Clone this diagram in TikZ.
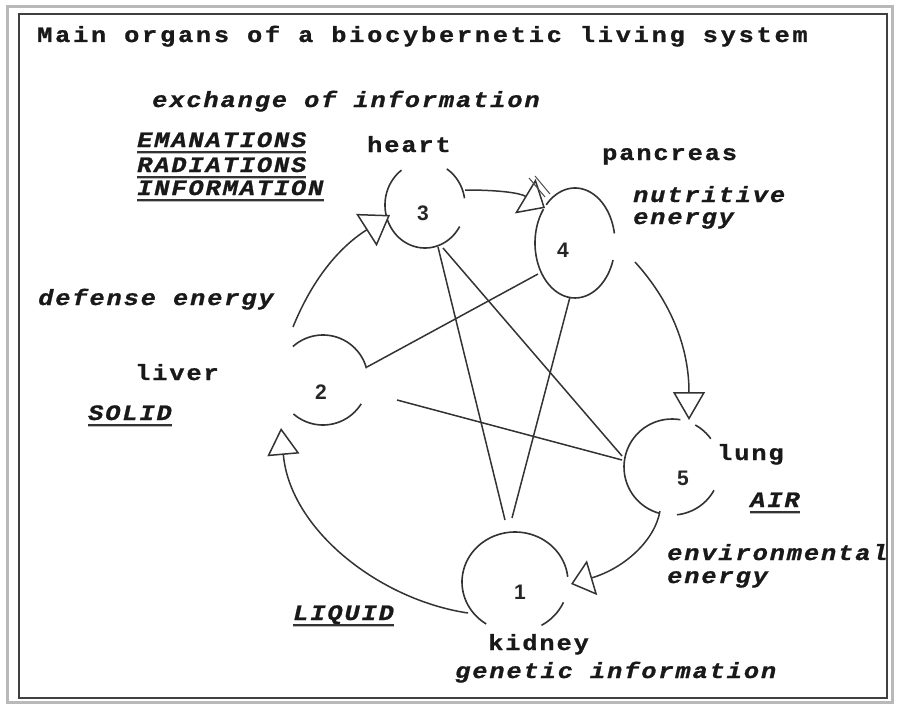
\documentclass[tikz,border=0pt]{standalone}
\usepackage{fontspec}
\usetikzlibrary{arrows.meta}
\newfontfamily\lblfont[LetterSpace=8.7,FakeStretch=1.15,FakeBold=1]{Liberation Mono}
\newfontfamily\ttlfont[LetterSpace=12.6,FakeStretch=1.15,FakeBold=1]{Liberation Mono}
\newfontfamily\digfont{Liberation Sans}
\newcommand\oarc[6]{\draw[organ] plot[domain=#5:#6,samples=40,smooth] ({#1+#3*cos(\x)},{#2+#4*sin(\x)});}
\begin{document}
\begin{tikzpicture}[x=1pt,y=-1pt,
  lab/.style={font=\lblfont\bfseries\fontsize{22}{26}\selectfont, anchor=base west, inner sep=0pt, text=black!90},
  ilab/.style={lab, font=\lblfont\bfseries\itshape\fontsize{22}{26}\selectfont},
  num/.style={font=\digfont\bfseries\fontsize{21}{22}\selectfont, inner sep=0pt, text=black!85},
  organ/.style={line width=1.6pt, black!80},
  conn/.style={line width=1.5pt, black!80},
  ul/.style={line width=2pt, black!80},
  ulshadow/.style={line width=1.6pt, gray!55}]
\useasboundingbox (0,0) rectangle (900,709);
\fill[white] (0,0) rectangle (900,709);
% frame
\draw[gray!55, line width=3pt] (7,7) rectangle (892,702);
\draw[black!75, line width=2pt] (19,14) rectangle (887,698);

% texts
\node[lab, font=\ttlfont\bfseries\fontsize{22}{26}\selectfont] (title) at (37,42) {Main organs of a biocybernetic living system};
\node[ilab] (exch) at (152,107) {exchange of information};
\node[ilab] (eman) at (137,147) {EMANATIONS};
\node[ilab] (radi) at (137,172) {RADIATIONS};
\node[ilab] (info) at (137,195) {INFORMATION};
\node[lab] (heart) at (367,152) {heart};
\node[lab] (pancreas) at (602,160) {pancreas};
\node[ilab] (nutr) at (633,202) {nutritive};
\node[ilab] (nutr2) at (633,224) {energy};
\node[ilab] (def) at (38,305) {defense energy};
\node[lab] (liver) at (135,380) {liver};
\node[ilab] (solid) at (88,420) {SOLID};
\node[lab] (lung) at (717,460) {lung};
\node[ilab] (air) at (750,507) {AIR};
\node[ilab] (env) at (667,560) {environmental};
\node[ilab] (env2) at (667,583) {energy};
\node[ilab] (liquid) at (293,620) {LIQUID};
\node[lab] (kidney) at (488,650) {kidney};
\node[ilab] (gen) at (455,678) {genetic information};

% underlines
\foreach \n in {eman,radi,info,solid,air,liquid}{
  \draw[ulshadow] ([yshift=-6.5pt]\n.base west) -- ([yshift=-6.5pt]\n.base east);
  \draw[ul] ([yshift=-4.5pt]\n.base west) -- ([yshift=-4.5pt]\n.base east);
}

% organ numbers
\node[num] (n3) at (423,213) {3};
\node[num] (n4) at (563,250) {4};
\node[num] (n2) at (321,392) {2};
\node[num] (n5) at (683,478) {5};
\node[num] (n1) at (520,592) {1};

% organ circles (open arcs)
\oarc{425}{205}{40}{43}{166}{234}
\oarc{425}{205}{40}{43}{-57}{-9}
\oarc{425}{205}{40}{43}{30}{160}
\oarc{575}{243}{40}{55}{224}{350}
\oarc{575}{243}{40}{55}{18}{218}
\oarc{323}{380}{45}{45}{228}{345}
\oarc{323}{380}{45}{45}{32}{131}
\oarc{672}{467}{48}{48}{105}{280}
\oarc{672}{467}{48}{48}{-61}{-36}
\oarc{672}{467}{48}{48}{29}{84}
\oarc{515}{582}{53}{50}{123}{354}
\oarc{515}{582}{53}{50}{24}{60}

% connector end points
\coordinate (a23s) at (293,327); \coordinate (a23e) at (390,215);
\coordinate (a34s) at (465,190); \coordinate (a34e) at (545,208);
\coordinate (a45s) at (635,262); \coordinate (a45e) at (689,420);
\coordinate (a51s) at (660,511); \coordinate (a51e) at (571,584);
\coordinate (a12s) at (468,613); \coordinate (a12e) at (281,428);
\coordinate (p24a) at (367,367); \coordinate (p24b) at (538,274);
\coordinate (p25a) at (397,400); \coordinate (p25b) at (622,460);
\coordinate (p31a) at (438,247); \coordinate (p31b) at (505,520);
\coordinate (p35a) at (443,248); \coordinate (p35b) at (622,456);
\coordinate (p41a) at (570,297); \coordinate (p41b) at (512,518);

% cycle arrows
\draw[conn, -{Triangle[open,length=28pt,width=38pt]}] (a23s) .. controls (310,285) and (335,250) .. (a23e);
\draw[conn, -{Triangle[open,length=23pt,width=40pt]}] (a34s) .. controls (500,190) and (520,193) .. (a34e);
\draw[conn, -{Triangle[open,length=28pt,width=32pt]}] (a45s) .. controls (665,295) and (689,340) .. (a45e);
\draw[conn, -{Triangle[open,length=22pt,width=36pt]}] (a51s) .. controls (655,540) and (625,568) .. (a51e);
\draw[conn, -{Triangle[open,length=27pt,width=32pt]}] (a12s) .. controls (380,600) and (290,530) .. (a12e);
% small pen marks at the pancreas arrow
\draw[line width=1pt, black!70] (529,178) -- (545,197) (535,176) -- (550,194);

% star connections
\draw[conn] (p24a) -- (p24b);
\draw[conn] (p25a) -- (p25b);
\draw[conn] (p31a) -- (p31b);
\draw[conn] (p35a) -- (p35b);
\draw[conn] (p41a) -- (p41b);
\end{tikzpicture}
\end{document}
